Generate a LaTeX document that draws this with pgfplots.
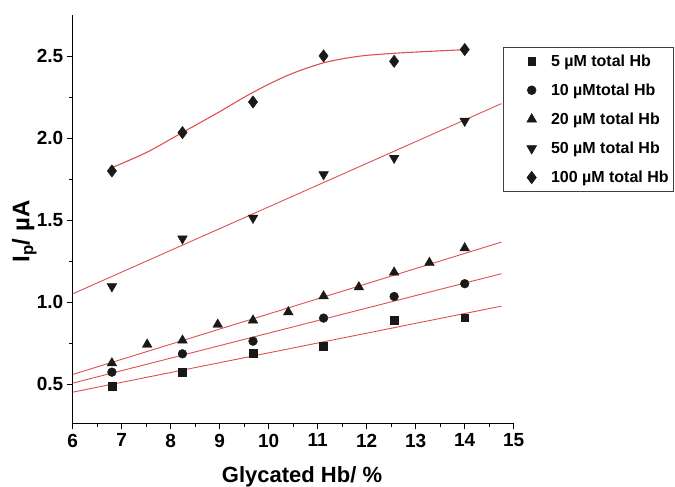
\documentclass[border=0pt]{standalone}
\usepackage{pgfplots}
\pgfplotsset{compat=1.18}
\usepackage{fontspec}
\setmainfont{Liberation Sans}
\definecolor{fitred}{RGB}{222,80,80}
\definecolor{markblack}{RGB}{25,25,25}
\begin{document}
\begin{tikzpicture}
\begin{axis}[
  width=441pt, height=408pt, scale only axis,
  xmin=6, xmax=15, ymin=0.26, ymax=2.75,
  axis lines=left,
  axis line style={-, line width=0.9pt, black},
  xtick={6,7,8,9,10,11,12,13,14,15}, minor x tick num=1,
  ytick={0.5,1.0,1.5,2.0,2.5}, minor y tick num=1,
  tick align=outside, major tick length=6pt, minor tick length=3.5pt,
  every tick/.style={black, line width=0.8pt},
  ticklabel style={font=\fontsize{19}{21}\selectfont\bfseries},
  /pgf/number format/assume math mode=true,
  yticklabel style={/pgf/number format/.cd, fixed, fixed zerofill, precision=1},
  xticklabel style={yshift=-1pt},
  xlabel={Glycated Hb/ \%},
  ylabel={I\textsubscript{p}/ µA},
  xlabel style={font=\fontsize{22}{24}\selectfont\bfseries, at={(axis description cs:0.52,-0.13)}, anchor=center},
  ylabel style={font=\fontsize{24}{26}\selectfont\bfseries, at={(axis description cs:-0.11,0.47)}, anchor=center},
  legend style={at={(rel axis cs:0.976,0.9216)}, anchor=north west,
    draw=black!75, line width=0.6pt, fill=white,
    font=\fontsize{16}{18}\selectfont\bfseries,
    row sep=12pt, inner xsep=3pt, inner ysep=5pt},
  legend cell align=left,
  legend image code/.code={\path (0pt,0pt) (42pt,0pt); \draw[#1] plot coordinates {(25pt,0pt)};},
]
% fitted lines
\addplot[fitred, line width=0.9pt, forget plot] coordinates {(6,0.45) (14.75,0.975)};
\addplot[fitred, line width=0.9pt, forget plot] coordinates {(6,0.505) (14.75,1.173)};
\addplot[fitred, line width=0.9pt, forget plot] coordinates {(6,0.558) (14.75,1.366)};
\addplot[fitred, line width=0.9pt, forget plot] coordinates {(6,1.05) (14.75,2.211)};
\addplot[fitred, line width=1.1pt, smooth, forget plot] coordinates {
 (6.8,1.82) (7.52,1.915) (8.24,2.035) (8.96,2.155) (9.68,2.28) (10.4,2.385)
 (11.12,2.46) (11.84,2.50) (12.56,2.518) (13.28,2.53) (14.0,2.54)};
% data
\addplot[only marks, mark=square*, mark size=3.9pt, color=markblack] coordinates {
 (6.8,0.485) (8.24,0.572) (9.68,0.688) (11.12,0.731) (12.56,0.888) (14.0,0.904)};
\addlegendentry{5 µM total Hb}
\addplot[only marks, mark=*, mark size=4.4pt, color=markblack] coordinates {
 (6.8,0.572) (8.24,0.684) (9.68,0.761) (11.12,0.902) (12.56,1.034) (14.0,1.112)};
\addlegendentry{10 µMtotal Hb}
\addplot[only marks, mark=triangle*, mark size=5.6pt, color=markblack] coordinates {
 (6.8,0.627) (7.52,0.741) (8.24,0.766) (8.96,0.863) (9.68,0.888) (10.4,0.939)
 (11.12,1.036) (11.84,1.091) (12.56,1.181) (13.28,1.240) (14.0,1.329)};
\addlegendentry{20 µM total Hb}
\addplot[only marks, mark=triangle*, mark size=5.6pt, color=markblack,
  every mark/.append style={rotate=180}] coordinates {
 (6.8,1.095) (8.24,1.387) (9.68,1.513) (11.12,1.779) (12.56,1.879) (14.0,2.105)};
\addlegendentry{50 µM total Hb}
\addplot[only marks, mark=diamond*, mark size=6.2pt, color=markblack] coordinates {
 (6.8,1.80) (8.24,2.034) (9.68,2.221) (11.12,2.502) (12.56,2.469) (14.0,2.541)};
\addlegendentry{100 µM total Hb}
\end{axis}
\pgfresetboundingbox
\path (current axis.south west) ++(-72.7pt,-63.7pt) rectangle ++(675pt,487pt);
\end{tikzpicture}
\end{document}
